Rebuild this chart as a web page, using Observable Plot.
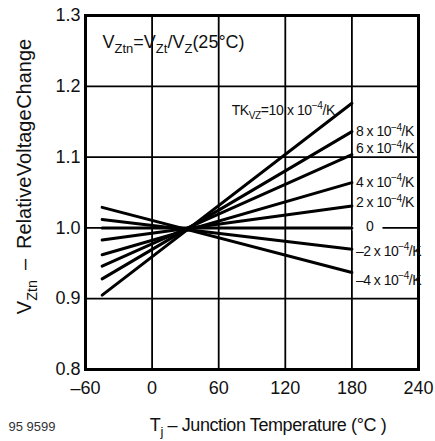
<!DOCTYPE html>
<html>
<head>
<meta charset="utf-8">
<script src="https://cdn.jsdelivr.net/npm/d3@7"></script>
<script src="https://cdn.jsdelivr.net/npm/@observablehq/plot@0.6"></script>
<style>
  html, body { margin: 0; padding: 0; background: #fff; }
  #chart { width: 435px; height: 441px; }
</style>
</head>
<body>
<div id="chart"></div>
<script>
// ---- data ----
const tkValues = [10, 8, 6, 4, 2, 0, -2, -4];          // TKvz in 10^-4/K
const tStart = -45;                                      // °C, left end of lines
const tEnd = 180;                                        // °C, right end of lines
const vStart = [0.905, 0.928, 0.946, 0.962, 0.983, 1.000, 1.012, 1.029];
const vEnd   = [1.176, 1.136, 1.1035, 1.064, 1.031, 1.000, 0.970, 0.937];
const tkLabels = [
  "TK_{VZ}=10 x 10^{−4}/K", "8 x 10^{−4}/K", "6 x 10^{−4}/K", "4 x 10^{−4}/K",
  "2 x 10^{−4}/K", "0", "–2 x 10^{−4}/K", "–4 x 10^{−4}/K"
];
const xTicks = [-60, 0, 60, 120, 180, 240];
const yTicks = [0.8, 0.9, 1.0, 1.1, 1.2, 1.3];
const xGrid = [0, 60, 120, 180];
const yGrid = [0.9, 1.0, 1.1, 1.2];
const formulaText = "V_{Ztn}=V_{Zt}/V_{Z}(25°C)";
const xTitle = "T_{j} – Junction Temperature (°C )";
const yTitle = "V_{Ztn}\u2002–\u2002Relative Voltage Change";
const figureId = "95 9599";

// ---- layout / style of the labels ----
const labelLayout = {
  "10": {dx: -17, dy: 7, anchor: "end"},
  "8":  {dx: 4, dy: 0, anchor: "start"},
  "6":  {dx: 4, dy: -6, anchor: "start"},
  "4":  {dx: 4, dy: 0, anchor: "start"},
  "2":  {dx: 4, dy: -3, anchor: "start"},
  "0":  {dx: 18, dy: -1, anchor: "middle"},
  "-2": {dx: 4, dy: 2, anchor: "start"},
  "-4": {dx: 4, dy: 8, anchor: "start"}
};
const zeroGapEnd = 208;   // °C where the 1.0 grid line resumes after the "0" label

const rows = tkValues.flatMap((tk, i) => [
  {tk, t: tStart, v: vStart[i]},
  {tk, t: tEnd, v: vEnd[i]}
]);

const labelMarks = tkValues.map((tk, i) => {
  const L = labelLayout[String(tk)];
  return Plot.text([i], {
    x: () => tEnd, y: d => vEnd[d], text: d => tkLabels[d],
    dx: L.dx, dy: L.dy, textAnchor: L.anchor, lineAnchor: "middle",
    fontSize: 14, fill: "#111"
  });
});

const chart = Plot.plot({
  width: 435, height: 441,
  marginTop: 15, marginRight: 17, marginBottom: 72, marginLeft: 85,
  style: {fontFamily: "'Liberation Sans', Arial, sans-serif", fontSize: "18px", background: "#fff", color: "#111"},
  x: {domain: [-60, 240], ticks: xTicks, tickSize: 0, tickPadding: 12,
      tickFormat: d => d < 0 ? "–" + (-d) : String(d), label: null},
  y: {domain: [0.8, 1.3], ticks: yTicks, tickSize: 0, tickPadding: 5,
      tickFormat: d3.format(".1f"), label: null},
  marks: [
    Plot.ruleX(xGrid, {stroke: "black", strokeWidth: 1.8}),
    Plot.ruleY(yGrid, {stroke: "black", strokeWidth: 1.8}),
    Plot.ruleY([1.0], {x1: () => tEnd, x2: () => zeroGapEnd, stroke: "white", strokeWidth: 5, insetLeft: 1}),
    Plot.line(rows, {x: "t", y: "v", z: "tk", stroke: "black", strokeWidth: 3}),
    Plot.frame({stroke: "black", strokeWidth: 3}),
    ...labelMarks,
    Plot.text([formulaText], {frameAnchor: "top-left", dx: 17, dy: 27, textAnchor: "start",
      lineAnchor: "middle", fontSize: 18, fill: "#111"}),
    Plot.text([xTitle], {frameAnchor: "bottom", dx: 16, dy: 56, lineAnchor: "middle",
      fontSize: 18, fill: "#111"}),
    Plot.text([yTitle], {frameAnchor: "left", dx: -61, dy: -16, rotate: -90, textAnchor: "middle",
      lineAnchor: "middle", fontSize: 20, fill: "#111"}),
    Plot.text([figureId], {frameAnchor: "bottom-left", dx: -77, dy: 57, textAnchor: "start",
      lineAnchor: "middle", fontSize: 13, fill: "#333"})
  ]
});

document.getElementById("chart").appendChild(chart);

// ---- turn _{..} and ^{..} into sub/superscript tspans ----
const NS = "http://www.w3.org/2000/svg";
function richify(el) {
  const s = el.textContent;
  const re = /([_^])\{([^}]*)\}/g;
  if (!/[_^]\{/.test(s)) return;
  const base = parseFloat(getComputedStyle(el).fontSize) || 14;
  el.textContent = "";
  let last = 0, shift = 0, m;
  const add = (str, type) => {
    const t = document.createElementNS(NS, "tspan");
    const target = type === "_" ? base * 0.28 : type === "^" ? -base * 0.4 : 0;
    const d = target - shift;
    if (d) t.setAttribute("dy", d.toFixed(2));
    shift = target;
    if (type) t.setAttribute("font-size", (base * 0.72).toFixed(1));
    t.textContent = str;
    el.appendChild(t);
  };
  while ((m = re.exec(s))) {
    if (m.index > last) add(s.slice(last, m.index), null);
    add(m[2], m[1]);
    last = re.lastIndex;
  }
  if (last < s.length) add(s.slice(last), null);
}
d3.select(chart).selectAll("text").each(function () {
  const s = this.textContent;
  if (s.includes("10^{")) this.setAttribute("letter-spacing", s.startsWith("TK") ? "-0.4" : "-0.5");
  if (s === xTitle) this.setAttribute("letter-spacing", "-0.4");
  if (s === yTitle) this.setAttribute("word-spacing", "-5");
  richify(this);
});
</script>
</body>
</html>
